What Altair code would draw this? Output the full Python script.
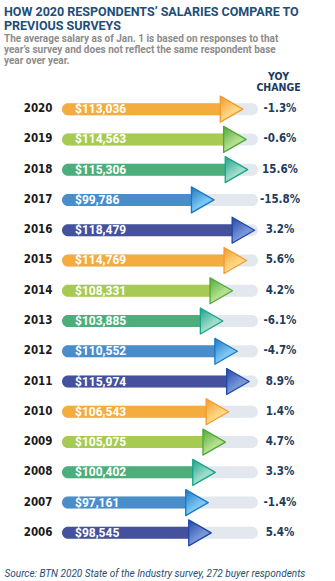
import altair as alt
import pandas as pd

years = ["2020", "2019", "2018", "2017", "2016", "2015", "2014", "2013",
         "2012", "2011", "2010", "2009", "2008", "2007", "2006"]
salaries = [113036, 114563, 115306, 99786, 118479, 114769, 108331, 103885,
            110552, 115974, 106543, 105075, 100402, 97161, 98545]
yoy = ["-1.3%", "-0.6%", "15.6%", "-15.8%", "3.2%", "5.6%", "4.2%", "-6.1%",
       "-4.7%", "8.9%", "1.4%", "4.7%", "3.3%", "-1.4%", "5.4%"]
groups = ["orange", "lime", "green", "blue", "indigo",
          "orange", "lime", "green", "blue", "indigo",
          "orange", "lime", "green", "blue", "indigo"]

group_names = ["orange", "lime", "green", "blue", "indigo"]
bar_colors = ["#f4ac3f", "#a6ca52", "#4caf7b", "#4a8dcb", "#45519c"]
tri_edge = ["#f29a2c", "#4fa83c", "#1aa38b", "#1a78c6", "#1f48a6"]
tri_light = ["#ffd785", "#b5e08e", "#9edccb", "#7cc6f2", "#7895d8"]

AXIS_MIN, AXIS_MAX = 30000, 120000

df = pd.DataFrame({"year": years, "salary": salaries, "yoy": yoy, "group": groups})

x_scale = alt.Scale(domain=[AXIS_MIN, AXIS_MAX], zero=False, nice=False)
y_scale = alt.Scale(paddingInner=0, paddingOuter=0)

NAVY = "#1c3b5e"
TITLE_BLUE = "#1e4d77"
NARROW = "DejaVu Sans Condensed, Roboto"


def yenc(axis=None):
    return alt.Y("year:N", sort=years, scale=y_scale, axis=axis)


base = alt.Chart(df).transform_calculate(lo=str(AXIS_MIN), hi=str(AXIS_MAX))

track = base.mark_bar(height=12, cornerRadius=6, color="#e2e8ed").encode(
    x=alt.X("lo:Q", scale=x_scale,
            axis=alt.Axis(labels=False, ticks=False, domain=False, grid=False,
                          title="Source: BTN 2020 State of the Industry survey, 272 buyer respondents",
                          titleX=-58, titleY=28, titleAlign="left", titleAnchor="start",
                          titleBaseline="alphabetic", titleFont="Roboto",
                          titleFontStyle="italic", titleFontWeight="normal",
                          titleFontSize=10, titleColor=TITLE_BLUE)),
    x2=alt.X2("hi:Q"),
    y=yenc(alt.Axis(title=None, domain=False, ticks=False, labelPadding=10,
                    labelFont=NARROW, labelFontWeight="bold", labelFontSize=11.5,
                    labelColor="#1a1a1a")),
)

body = base.mark_bar(height=12, cornerRadius=6, x2Offset=-10).encode(
    x=alt.X("lo:Q"),
    x2=alt.X2("salary:Q"),
    y=yenc(),
    color=alt.Color("group:N", scale=alt.Scale(domain=group_names, range=bar_colors), legend=None),
)

tris = []
for g, edge, light in zip(group_names, tri_edge, tri_light):
    grad = alt.Gradient(
        gradient="linear",
        stops=[alt.GradientStop(color=edge, offset=0),
               alt.GradientStop(color=light, offset=0.65),
               alt.GradientStop(color=light, offset=1)],
        x1=0, y1=0, x2=0.7, y2=1,
    )
    tris.append(
        base.transform_filter(alt.datum.group == g).mark_point(
            shape="triangle-right", size=676, filled=True, opacity=1,
            fill=grad, stroke=edge, strokeWidth=1.3, strokeJoin="round",
            xOffset=-11.3,
        ).encode(x=alt.X("salary:Q"), y=yenc())
    )

label_map = "{" + ",".join(f"'{y}':'{v}'" for y, v in zip(years, yoy)) + "}[datum.value]"

values = base.mark_text(align="left", baseline="middle", dx=13, font="Roboto",
                        fontWeight="bold", fontSize=12, color="white").encode(
    x=alt.X("lo:Q"),
    y=yenc(alt.Axis(orient="right", domain=False, ticks=False, labelExpr=label_map,
                    labelAlign="center", labelPadding=21.5, labelFont=NARROW,
                    labelFontWeight="bold", labelFontSize=11.5, labelColor=NAVY,
                    title=["YOY", "CHANGE"], titleAngle=0, titleAlign="center",
                    titleBaseline="alphabetic", titleX=20, titleY=-15,
                    titleFont=NARROW, titleFontWeight="bold", titleFontSize=10.5,
                    titleLineHeight=11.5, titleColor=NAVY)),
    text=alt.Text("salary:Q", format="$,"),
)

chart = alt.layer(track, body, *tris, values).resolve_axis(y="independent").properties(
    width=196, height=454,
    padding={"left": 62, "top": 94, "right": 77, "bottom": 33},
    autosize="none",
    title=alt.TitleParams(
        text=["HOW 2020 RESPONDENTS\u2019 SALARIES COMPARE TO", "PREVIOUS SURVEYS"],
        subtitle=["The average salary as of Jan. 1 is based on responses to that",
                  "year\u2019s survey and does not reflect the same respondent base",
                  "year over year."],
        anchor="start", frame="group", dx=-58, offset=5,
        font="Roboto", fontSize=12.5, fontWeight="bold", color=TITLE_BLUE, lineHeight=14,
        subtitleFont="Roboto", subtitleFontSize=10, subtitleFontWeight="bold",
        subtitleColor="#8c8c8c", subtitleLineHeight=11, subtitlePadding=2,
    ),
).configure_view(stroke=None)

chart.save("out.html", embed_options={"renderer": "svg", "actions": False})
